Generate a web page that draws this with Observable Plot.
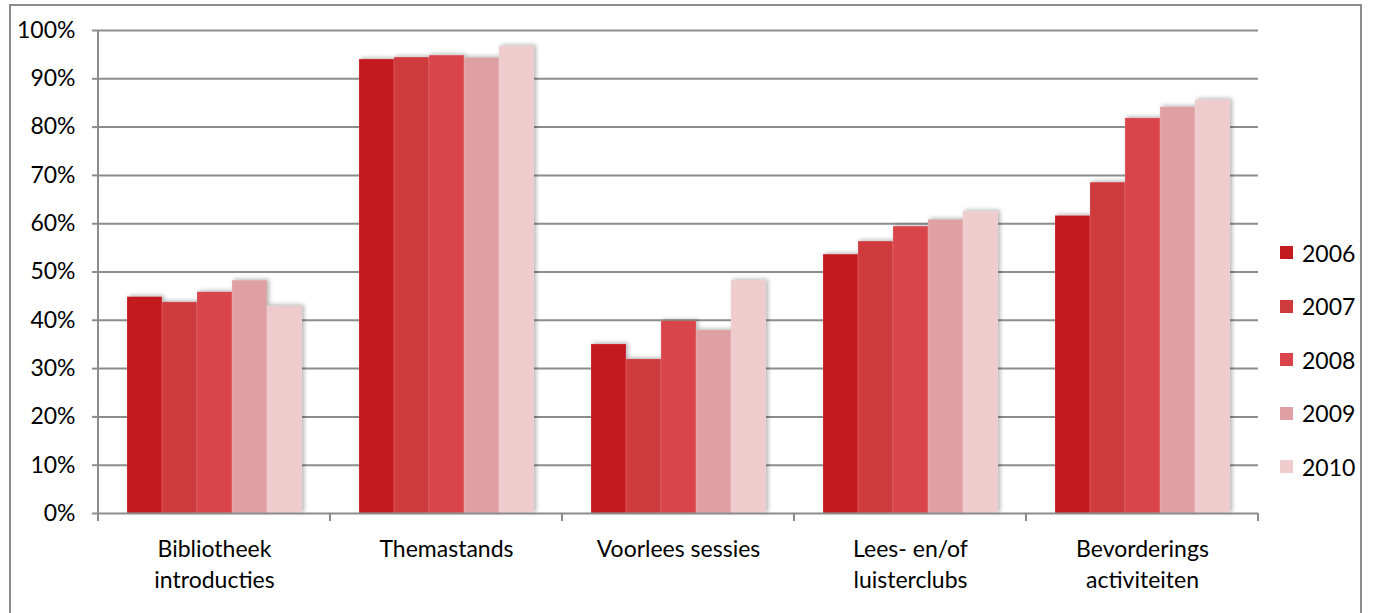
<!DOCTYPE html>
<html><head><meta charset="utf-8">
<script src="https://cdn.jsdelivr.net/npm/d3@7"></script>
<script src="https://cdn.jsdelivr.net/npm/@observablehq/plot@0.6"></script>
<style>
body{margin:0;background:#fff;font-family:Lato,"Open Sans",sans-serif;}
#wrap{position:relative;width:1373px;height:613px;overflow:hidden;background:#fff}
#border{position:absolute;left:9px;top:4px;width:1353px;height:700px;border:2px solid #8c8c8c;box-sizing:border-box;pointer-events:none}
#chart{position:absolute;left:0;top:0}
#legend{position:absolute;left:1280px;top:226px}
.row{display:flex;align-items:center;height:53.5px;font-size:23px;color:#000}
.sw{width:13px;height:13px;margin-right:9px}
g[aria-label="bar"]{filter:drop-shadow(2px -1px 2px rgba(0,0,0,0.3))}
</style></head>
<body>
<div id="wrap"><div id="chart"></div><div id="legend"></div><div id="border"></div></div>
<script>
const categories = ["Bibliotheek\nintroducties", "Themastands", "Voorlees sessies", "Lees- en/of\nluisterclubs", "Bevorderings\nactiviteiten"];
const years = ["2006", "2007", "2008", "2009", "2010"];
const v2006 = [44.8, 94.0, 35.0, 53.6, 61.6];
const v2007 = [43.7, 94.4, 31.9, 56.3, 68.5];
const v2008 = [45.8, 94.8, 39.8, 59.4, 81.8];
const v2009 = [48.2, 94.3, 37.9, 60.8, 84.1];
const v2010 = [42.9, 96.7, 48.2, 62.5, 85.6];
const yTicks = [0, 10, 20, 30, 40, 50, 60, 70, 80, 90, 100];
const colors = ["#c41a1f", "#cf3a3d", "#d9454a", "#dfa0a3", "#eecbcc"];

const series = [v2006, v2007, v2008, v2009, v2010];
const data = [];
categories.forEach((c, i) => years.forEach((y, j) => data.push({category: c, year: y, value: series[j][i]})));

const chart = Plot.plot({
  width: 1373, height: 613,
  marginLeft: 97, marginRight: 115, marginTop: 30, marginBottom: 100,
  style: {fontFamily: "Lato, 'Open Sans', sans-serif", fontSize: "23px", color: "#000", background: "transparent"},
  fx: {domain: categories, padding: 0, label: null, axis: null},
  x: {domain: years, paddingInner: 0, paddingOuter: 0.76, axis: null},
  y: {domain: [0, 100], label: null},
  color: {domain: years, range: colors},
  marks: [
    Plot.gridY(yTicks.slice(1), {stroke: "#8c8c8c", strokeOpacity: 1, strokeWidth: 2}),
    Plot.barY(data, {fx: "category", x: "year", y: "value", fill: "year", stroke: "#fff", strokeOpacity: 0.25, strokeWidth: 0.6}),
    Plot.ruleY([0], {stroke: "#8c8c8c", strokeWidth: 2}),
    Plot.axisY({ticks: yTicks, tickFormat: d => d + "%", tickSize: 6, tickPadding: 17, stroke: "#8c8c8c", strokeWidth: 2, fontSize: 23, label: null}),
    Plot.axisFx({anchor: "bottom", tickSize: 0, tickPadding: 21, fontSize: 23, lineHeight: 1.35, label: null})
  ]
});
document.getElementById("chart").appendChild(chart);

// y-axis line and category boundary ticks from the library scales
const svg = d3.select(chart);
const fx = chart.scale("fx");
const ys = chart.scale("y");
const y0 = ys.apply(0), y100 = ys.apply(100);
const left = fx.apply(categories[0]);
svg.append("line").attr("x1", left).attr("x2", left).attr("y1", y100).attr("y2", y0)
  .attr("stroke", "#8c8c8c").attr("stroke-width", 2);
const bounds = categories.map(c => fx.apply(c)).concat([fx.apply(categories[categories.length - 1]) + fx.bandwidth]);
bounds.forEach(b => svg.append("line").attr("x1", b).attr("x2", b).attr("y1", y0).attr("y2", y0 + 8)
  .attr("stroke", "#8c8c8c").attr("stroke-width", 2));

// legend
const leg = d3.select("#legend");
years.forEach((y, i) => {
  const r = leg.append("div").attr("class", "row");
  r.append("div").attr("class", "sw").style("background", colors[i]);
  r.append("span").text(y);
});
</script>
</body></html>
